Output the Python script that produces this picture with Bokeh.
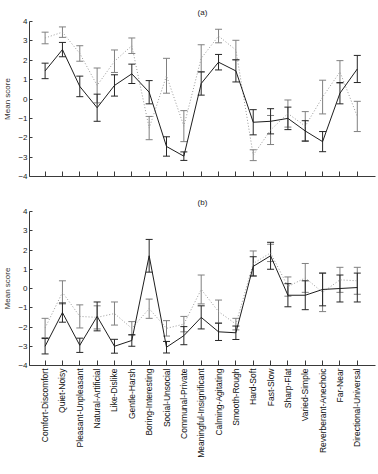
from math import pi

from bokeh.embed import file_html
from bokeh.layouts import column
from bokeh.models import (ColumnDataSource, CustomJSTickFormatter, FixedTicker,
                          Range1d, TeeHead, Whisker)
from bokeh.resources import INLINE
from bokeh.plotting import figure

# Semantic-differential attributes (x axis, shared by both panels)
attributes = [
    "Comfort-Discomfort", "Quiet-Noisy", "Pleasant-Unpleasant", "Natural-Artificial",
    "Like-Dislike", "Gentle-Harsh", "Boring-Interesting", "Social-Unsocial",
    "Communal-Private", "Meaningful-Insignificant", "Calming-Agitating", "Smooth-Rough",
    "Hard-Soft", "Fast-Slow", "Sharp-Flat", "Varied-Simple", "Reverberant-Anechoic",
    "Far-Near", "Directional-Universal",
]

# Panel (a): mean scores and error half-widths
a_solid = [1.45, 2.55, 0.65, -0.45, 0.7, 1.3, 0.35, -2.45, -2.95, 0.8,
           1.9, 1.45, -1.2, -1.15, -1.0, -1.65, -2.2, 0.3, 1.55]
a_solid_err = [0.4, 0.37, 0.53, 0.7, 0.55, 0.5, 0.6, 0.5, 0.22, 0.6,
               0.4, 0.57, 0.65, 0.65, 0.58, 0.53, 0.52, 0.55, 0.7]
a_dotted = [3.15, 3.45, 2.35, 0.7, 1.95, 2.75, -1.5, 1.2, -1.4, 2.1,
            3.25, 2.53, -2.9, -1.6, -0.75, -1.4, 0.1, 1.4, -0.9]
a_dotted_err = [0.3, 0.27, 0.4, 0.9, 0.58, 0.4, 0.6, 0.9, 0.8, 0.7,
                0.35, 0.5, 0.28, 0.75, 0.7, 0.75, 0.87, 0.58, 0.78]

# Panel (b): mean scores and error half-widths
b_solid = [-3.0, -1.25, -2.95, -1.45, -3.0, -2.7, 1.7, -3.05, -2.45, -1.5,
           -2.25, -2.3, 1.15, 1.7, -0.35, -0.35, -0.05, 0.0, 0.05]
b_solid_err = [0.4, 0.5, 0.37, 0.75, 0.36, 0.3, 0.85, 0.3, 0.47, 0.6,
               0.45, 0.35, 0.5, 0.7, 0.6, 0.75, 0.85, 0.7, 0.75]
b_dotted = [-2.05, -0.2, -1.45, -1.5, -1.3, -2.07, -1.05, -2.07, -1.85, -0.05,
            -1.2, -1.85, 1.3, 1.85, 0.1, 0.55, -0.2, 0.45, 0.4]
b_dotted_err = [0.5, 0.6, 0.6, 0.6, 0.6, 0.35, 0.5, 0.4, 0.4, 0.75,
                0.6, 0.3, 0.65, 0.45, 0.5, 0.75, 1.0, 0.65, 0.7]

y_ticks = [-4, -3, -2, -1, 0, 1, 2, 3, 4]

FONT = "Liberation Sans"
AXIS_COLOR = "#3a3a3a"
x = list(range(1, len(attributes) + 1))


def add_series(p, ys, errs, line_color, dash, bar_color):
    src = ColumnDataSource(dict(
        x=x, y=ys,
        upper=[v + e for v, e in zip(ys, errs)],
        lower=[v - e for v, e in zip(ys, errs)],
    ))
    p.line("x", "y", source=src, line_color=line_color, line_width=1, line_dash=dash)
    p.add_layout(Whisker(
        base="x", upper="upper", lower="lower", source=src,
        line_color=bar_color, line_width=1,
        upper_head=TeeHead(size=7, line_color=bar_color, line_width=1),
        lower_head=TeeHead(size=7, line_color=bar_color, line_width=1),
    ))


def panel(title, height, bottom, show_labels,
          solid, solid_err, dotted, dotted_err):
    p = figure(width=378, height=height, output_backend="svg", toolbar_location=None,
               x_range=Range1d(0.1, 20.05), y_range=Range1d(-4, 4),
               min_border_left=27, min_border_right=3, min_border_top=19,
               min_border_bottom=bottom)
    p.title.text = title
    p.title.align = "center"
    p.title.text_font = FONT
    p.title.text_font_size = "8px"
    p.title.text_font_style = "normal"
    p.title.text_color = "#222222"
    p.outline_line_color = None
    p.grid.visible = False
    p.background_fill_color = "white"
    p.border_fill_color = "white"

    add_series(p, dotted, dotted_err, "#9a9a9a", "1 2", "#808080")
    add_series(p, solid, solid_err, "#1e1e1e", "solid", "#262626")

    ya = p.yaxis[0]
    ya.ticker = FixedTicker(ticks=y_ticks)
    ya.axis_label = "Mean score"
    ya.axis_label_text_font = FONT
    ya.axis_label_text_font_size = "8px"
    ya.axis_label_text_font_style = "normal"
    ya.axis_label_text_color = "#333333"
    ya.axis_label_standoff = 3
    ya.major_label_text_font = FONT
    ya.major_label_text_font_size = "8px"
    ya.major_label_text_color = "#222222"
    ya.major_label_standoff = 2
    ya.major_tick_in = 3
    ya.major_tick_out = 0
    ya.minor_tick_line_color = None
    ya.axis_line_color = AXIS_COLOR
    ya.major_tick_line_color = AXIS_COLOR

    xa = p.xaxis[0]
    xa.ticker = FixedTicker(ticks=x)
    xa.major_tick_in = 5
    xa.major_tick_out = 0
    xa.minor_tick_line_color = None
    xa.axis_line_color = AXIS_COLOR
    xa.major_tick_line_color = AXIS_COLOR
    if show_labels:
        xa.major_label_overrides = {i: name for i, name in zip(x, attributes)}
        xa.major_label_orientation = pi / 2
        xa.major_label_text_font = FONT
        xa.major_label_text_font_size = "8.5px"
        xa.major_label_text_color = "#111111"
        xa.major_label_standoff = 3
    else:
        # upper panel shares the attribute ticks but carries no labels
        xa.formatter = CustomJSTickFormatter(code="return '';")
        xa.major_label_standoff = 0
    return p


top = panel("(a)", 190, 14, False, a_solid, a_solid_err, a_dotted, a_dotted_err)
bottom = panel("(b)", 284, 109, True, b_solid, b_solid_err, b_dotted, b_dotted_err)

layout = column(top, bottom, spacing=0)
open("out.html", "w").write(file_html(layout, INLINE))
